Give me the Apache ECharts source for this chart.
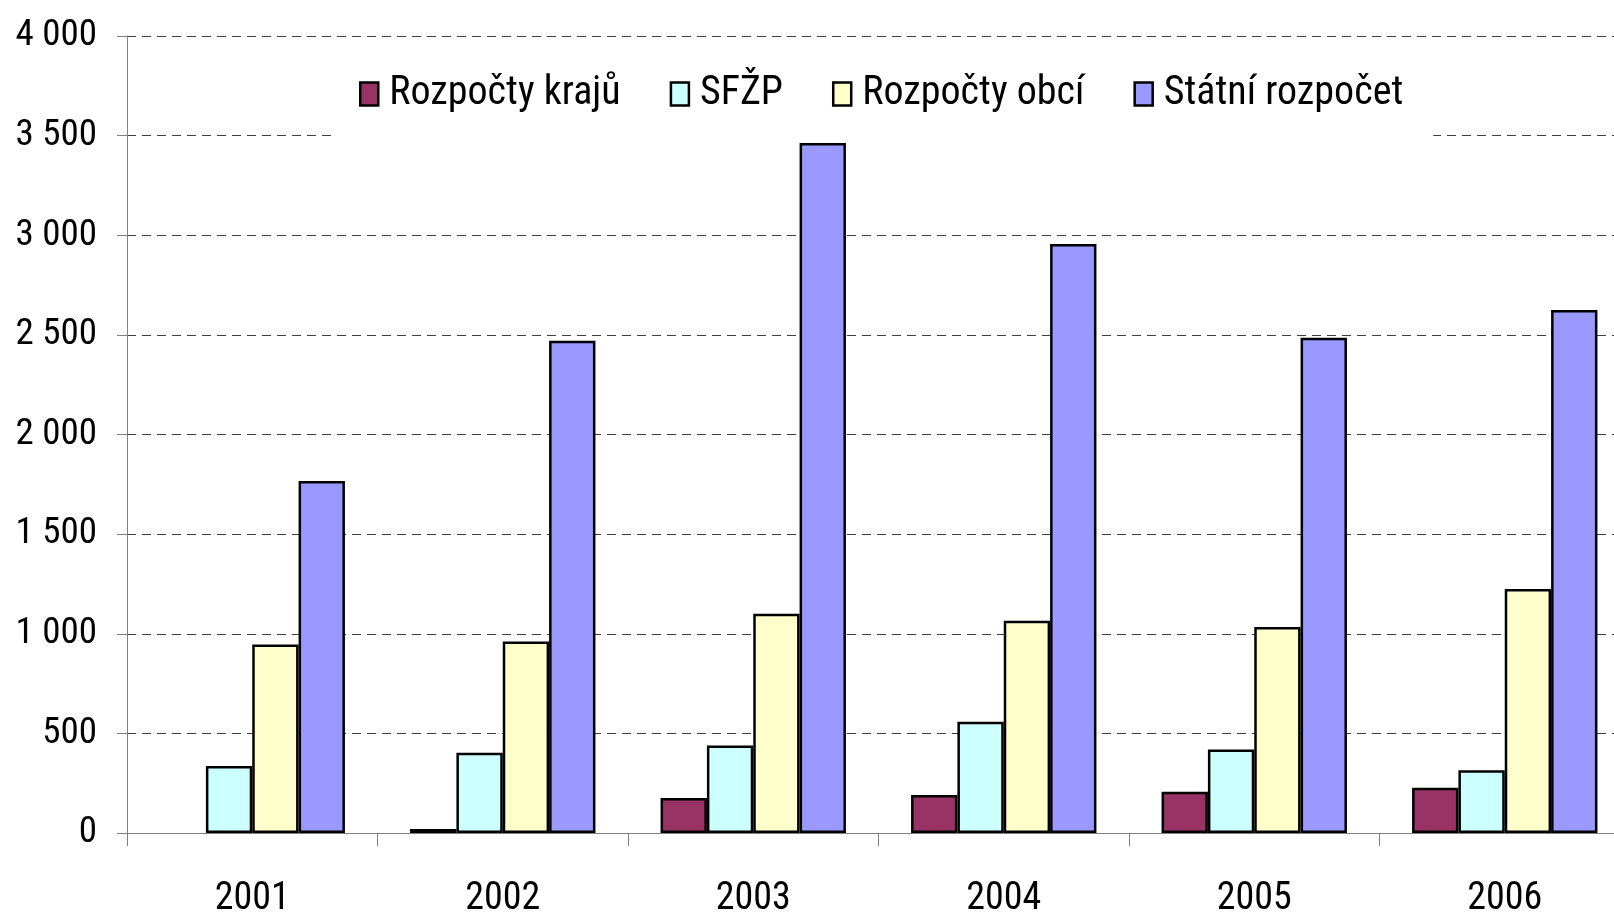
<!DOCTYPE html>
<html>
<head>
<meta charset="utf-8">
<script src="https://cdn.jsdelivr.net/npm/echarts@6/dist/echarts.min.js"></script>
<style>
html, body { margin: 0; padding: 0; background: #fff; }
#main { width: 1614px; height: 915px; }
</style>
</head>
<body>
<div id="main"></div>
<script>
const years = ["2001", "2002", "2003", "2004", "2005", "2006"];
const kraje = [null, 20, 176, 191, 207, 227];
const sfzp = [336, 403, 439, 558, 419, 315];
const obce = [946, 961, 1101, 1065, 1034, 1225];
const statni = [1767, 2470, 3463, 2956, 2486, 2625];

const fontName = "'Roboto Condensed', 'Liberation Sans Narrow', sans-serif";

var mychart = echarts.init(document.getElementById("main"));

function barSeries(name, data, color){
	return {
		name: name, type: "bar", data: data,
		barGap: "0%", barCategoryGap: "26%",
		itemStyle: {color: color, borderColor: "#000", borderWidth: 2.5},
		emphasis: {disabled: true}
	};
}

const option = {
	backgroundColor: "#fff",
	animation: false,
	grid: {left: 127, top: 36, width: 1503, height: 797, outerBoundsMode: "none", containLabel: false},
	legend: {
		left: 332, top: 49,
		padding: [25, 30, 28, 27],
		backgroundColor: "#fff",
		icon: "rect",
		itemWidth: 18, itemHeight: 23, itemGap: 49,
		textStyle: {fontFamily: fontName, fontSize: 40, color: "#000", padding: [0, 0, 0, 6]},
		itemStyle: {borderColor: "#000", borderWidth: 2.5}
	},
	xAxis: {
		type: "category", data: years,
		axisLine: {lineStyle: {color: "#808080", width: 1}},
		axisTick: {show: true, length: 13, lineStyle: {color: "#808080"}},
		axisLabel: {fontFamily: fontName, fontSize: 38, color: "#000", margin: 47}
	},
	yAxis: {
		type: "value", min: 0, max: 4000, interval: 500,
		axisLine: {show: true, lineStyle: {color: "#808080", width: 1}},
		axisTick: {show: true, length: 10, lineStyle: {color: "#808080"}},
		axisLabel: {fontFamily: fontName, fontSize: 37, color: "#000", margin: 30,
			formatter: function(v){ return String(v).replace(/\B(?=(\d{3})+(?!\d))/g, " "); }},
		splitLine: {show: true, lineStyle: {color: "#404040", width: 1, type: [9, 6]}}
	},
	series: [
		barSeries("Rozpočty krajů", kraje, "#993366"),
		barSeries("SFŽP", sfzp, "#CCFFFF"),
		barSeries("Rozpočty obcí", obce, "#FFFFCC"),
		barSeries("Státní rozpočet", statni, "#9999FF")
	]
};
mychart.setOption(option);
</script>
</body>
</html>
